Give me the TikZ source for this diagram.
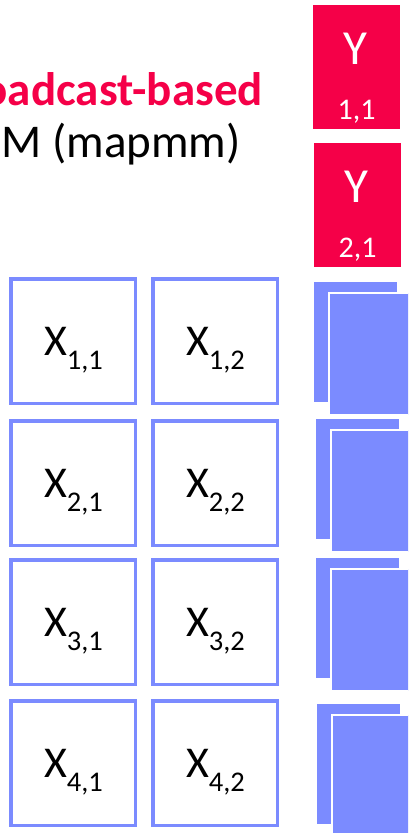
\documentclass[tikz,border=0pt]{standalone}
\usepackage{fontspec}
\setmainfont{Carlito}
\usetikzlibrary{calc}
\definecolor{xblue}{RGB}{123,139,255}
\definecolor{yred}{RGB}{245,0,72}
\tikzset{
  xbox/.style={draw=xblue, line width=3.5pt, minimum width=124.5pt, minimum height=124.5pt, inner sep=0pt, fill=white},
  xlab/.style={anchor=base, inner sep=0pt, font=\fontsize{44}{44}\selectfont},
  ybox/.style={fill=yred, draw=none, minimum width=87pt, minimum height=124pt, inner sep=0pt},
  ylab/.style={anchor=base, inner sep=0pt, text=white, font=\fontsize{49}{49}\selectfont},
  ysub/.style={anchor=base, inner sep=0pt, text=white, font=\fontsize{30}{30}\selectfont},
  backsq/.style={fill=xblue, draw=none, minimum width=83pt, minimum height=120pt, inner sep=0pt, anchor=north west},
  frontsq/.style={fill=xblue, draw=white, line width=2.5pt, minimum width=85pt, minimum height=122pt, inner sep=0pt, anchor=north west},
  title/.style={anchor=base east, inner sep=0pt, font=\fontsize{47}{47}\selectfont}
}
\newcommand{\xl}[2]{X\raisebox{-14pt}{\fontsize{28.5}{28.5}\selectfont #1,#2}}
\begin{document}
\begin{tikzpicture}[x=1pt,y=-1pt]
\useasboundingbox (0,0) rectangle (408,833);
\clip (0,0) rectangle (408,833);
% title
\node[title, text=yred, font=\fontsize{47}{47}\selectfont\bfseries] (t1) at (263,105) {Broadcast-based};
\node[title] (t2) at (241,157) {M (mapmm)};
% Y blocks
\node[ybox] (y1) at (356.5,67) {};
\node[ylab] (y1l) at (355,64) {Y};
\node[ysub] (y1s) at (356.5,119) {1,1};
\node[ybox] (y2) at (357.5,205) {};
\node[ylab] (y2l) at (356,202) {Y};
\node[ysub] (y2s) at (357.5,257) {2,1};
% X blocks
\foreach \r/\cy in {1/341,2/483,3/622,4/763}{
  \node[xbox] (x\r1) at (73,\cy) {};
  \node[xbox] (x\r2) at (215,\cy) {};
  \node[xlab] (lx\r1) at ($(x\r1.center)+(0.5,14)$) {\xl{\r}{1}};
  \node[xlab] (lx\r2) at ($(x\r2.center)+(0.5,14)$) {\xl{\r}{2}};
}
% stacked blue blocks
\foreach \r/\bx/\by in {1/314/282,2/316/419,3/316/558,4/317/704}{
  \node[backsq] (b\r) at (\bx,\by) {};
  \node[frontsq] (f\r) at ($(b\r.north west)+(13.75,9.75)$) {};
}
\end{tikzpicture}
\end{document}
